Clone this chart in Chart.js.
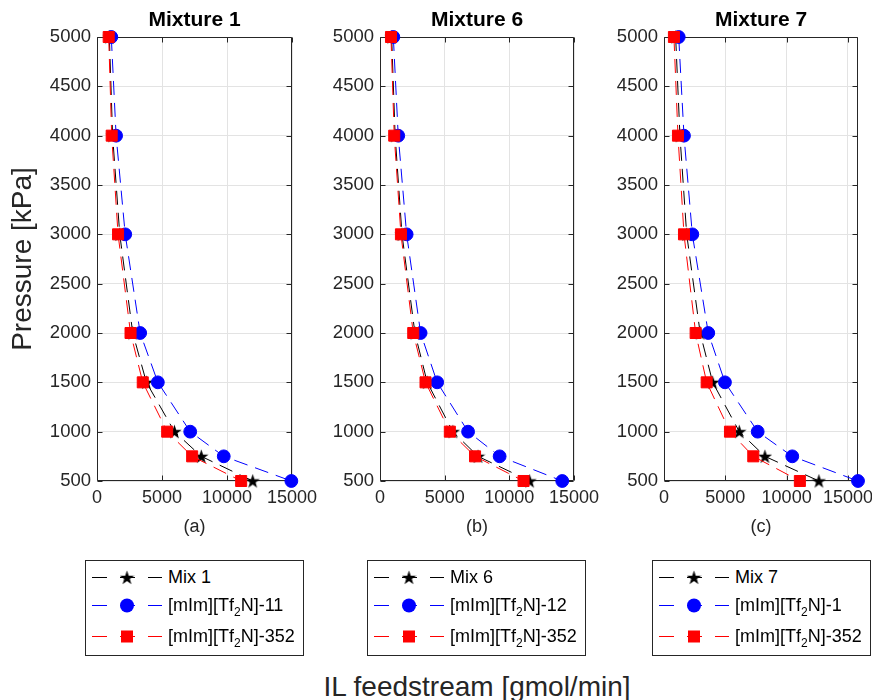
<!DOCTYPE html>
<html>
<head>
<meta charset="utf-8">
<script src="https://cdn.jsdelivr.net/npm/chart.js@4/dist/chart.umd.min.js"></script>
<style>
html,body{margin:0;padding:0;background:#fff;}
#root{position:relative;width:872px;height:700px;overflow:hidden;background:#fff;font-family:"Liberation Sans",Arial,Helvetica,sans-serif;}
canvas.plot{position:absolute;top:0;}
.legend{position:absolute;top:560px;width:217px;height:94px;border:1px solid #262626;background:#fff;}
.row{position:absolute;left:0;width:217px;height:30px;}
.row canvas{position:absolute;left:0;top:0;}
.row span{position:absolute;left:82px;top:0;line-height:30px;font-size:18px;color:#000;white-space:nowrap;}
.row sub{font-size:12px;vertical-align:-5px;line-height:0;}
#xlabel{position:absolute;left:177px;width:600px;top:670px;line-height:34px;font-size:28px;color:#262626;text-align:center;}
</style>
</head>
<body>
<div id="root">
  <canvas id="c1" class="plot"></canvas>
  <canvas id="c2" class="plot"></canvas>
  <canvas id="c3" class="plot"></canvas>
  <div id="xlabel">IL feedstream [gmol/min]</div>
</div>
<script>
// ---------------- DATA ----------------
const pressures = [5000, 4000, 3000, 2000, 1500, 1000, 750, 500];

const mix1      = [950, 1200, 1750, 2750, 3800, 5960, 8020, 11980];
const il11      = [1100, 1470, 2170, 3320, 4680, 7170, 9750, 14950];
const il352_a   = [900, 1130, 1620, 2580, 3520, 5400, 7320, 11090];

const mix6      = [900, 1170, 1700, 2700, 3650, 5630, 7580, 11570];
const il12      = [1030, 1410, 2060, 3140, 4420, 6810, 9250, 14090];
const il352_b   = [850, 1100, 1620, 2570, 3520, 5400, 7350, 11100];

const mix7      = [950, 1300, 1850, 2950, 3970, 6140, 8230, 12630];
const il1       = [1200, 1630, 2310, 3610, 4970, 7640, 10460, 15820];
const il352_c   = [810, 1140, 1630, 2580, 3480, 5380, 7280, 11080];

const panelTitles = ['Mixture 1', 'Mixture 6', 'Mixture 7'];
const panelLabels = ['(a)', '(b)', '(c)'];
const mixNames    = ['Mix 1', 'Mix 6', 'Mix 7'];
const ilNames     = ['[mIm][Tf<sub>2</sub>N]-11', '[mIm][Tf<sub>2</sub>N]-12', '[mIm][Tf<sub>2</sub>N]-1'];
const ilRefName   = '[mIm][Tf<sub>2</sub>N]-352';
const xMaxes      = [15000, 15000, 15820];
const xTickValues = [0, 5000, 10000, 15000];
const yTickValues = [500, 1000, 1500, 2000, 2500, 3000, 3500, 4000, 4500, 5000];
const yTitle      = 'Pressure [kPa]';

// ---------------- STYLE / HELPERS ----------------
Chart.defaults.font.family = '"Liberation Sans", Arial, Helvetica, sans-serif';
Chart.defaults.color = '#262626';

function makeStar(size, color) {
  const c = document.createElement('canvas');
  c.width = size; c.height = size;
  const g = c.getContext('2d');
  const cx = size / 2, cy = size / 2 + 0.6, R = size / 2, r = R * 0.40;
  g.beginPath();
  for (let i = 0; i < 10; i++) {
    const a = -Math.PI / 2 + i * Math.PI / 5;
    const rad = (i % 2) ? r : R;
    g.lineTo(cx + rad * Math.cos(a), cy + rad * Math.sin(a));
  }
  g.closePath();
  g.fillStyle = color;
  g.fill();
  return c;
}
const starImg = makeStar(15, '#000');

const boxPlugin = {
  id: 'boxTicks',
  beforeDatasetsDraw(chart) {
    const { ctx, chartArea, scales } = chart;
    const L = Math.round(chartArea.left) + 0.5, R = Math.round(chartArea.right) - 0.5;
    const T = Math.round(chartArea.top) + 0.5, B = Math.round(chartArea.bottom) - 0.5;
    ctx.save();
    ctx.strokeStyle = '#262626';
    ctx.lineWidth = 1;
    ctx.beginPath();
    ctx.rect(L, T, R - L, B - T);
    scales.x.ticks.forEach(t => {
      const p = Math.round(scales.x.getPixelForValue(t.value)) + 0.5;
      ctx.moveTo(p, B); ctx.lineTo(p, B - 5);
      ctx.moveTo(p, T); ctx.lineTo(p, T + 5);
    });
    scales.y.ticks.forEach(t => {
      const p = Math.round(scales.y.getPixelForValue(t.value)) + 0.5;
      ctx.moveTo(L, p); ctx.lineTo(L + 5, p);
      ctx.moveTo(R, p); ctx.lineTo(R - 5, p);
    });
    ctx.stroke();
    ctx.restore();
  }
};

function pts(xs) { return xs.map((x, i) => ({ x: x, y: pressures[i] })); }

const DASH = [14, 8];
const plainNum = v => String(v);

function makePanel(id, idx, geo, mixVals, ilVals, refVals) {
  const cv = document.getElementById(id);
  cv.width = geo.cw; cv.height = 545;
  cv.style.left = geo.cl + 'px';
  cv.style.width = geo.cw + 'px';
  cv.style.height = '545px';
  const showYTitle = idx === 0;
  const common = { xAxisID: 'x', yAxisID: 'y', showLine: true, borderWidth: 1, borderDash: DASH, clip: false };
  return new Chart(cv, {
    type: 'scatter',
    data: {
      datasets: [
        Object.assign({ label: 'mix', data: pts(mixVals), borderColor: '#000', backgroundColor: '#000',
          pointStyle: starImg, pointRadius: 7, order: 3 }, common),
        Object.assign({ label: 'il', data: pts(ilVals), borderColor: '#0000ff', backgroundColor: '#0000ff',
          pointStyle: 'circle', pointRadius: 6.4, pointBorderWidth: 1, order: 2 }, common),
        Object.assign({ label: 'ref', data: pts(refVals), borderColor: '#ff0000', backgroundColor: '#ff0000',
          pointStyle: 'rect', pointRadius: 7.8, pointBorderWidth: 1, order: 1 }, common)
      ]
    },
    options: {
      responsive: false,
      animation: false,
      devicePixelRatio: 1,
      layout: { padding: { left: 0, right: geo.rp, top: 0, bottom: 0 } },
      plugins: {
        legend: { display: false },
        tooltip: { enabled: false },
        title: { display: false }
      },
      scales: {
        x: {
          type: 'linear', position: 'bottom', min: 0, max: xMaxes[idx],
          afterBuildTicks: s => { s.ticks = xTickValues.map(v => ({ value: v })); },
          afterFit: s => { s.height = 64; },
          grid: { color: '#e3e3e3', drawTicks: false, lineWidth: 1 },
          border: { display: false },
          ticks: { font: { size: 18 }, color: '#262626', padding: 6.5, maxRotation: 0, autoSkip: false, callback: plainNum },
          title: { display: true, text: panelLabels[idx], color: '#262626', font: { size: 18 }, padding: { top: 0, bottom: 7.2 } }
        },
        xTop: {
          type: 'linear', position: 'top', axis: 'x', min: 0, max: xMaxes[idx],
          afterFit: s => { s.height = 37; },
          grid: { display: false, drawTicks: false },
          border: { display: false },
          ticks: { display: false },
          title: { display: true, text: panelTitles[idx], color: '#000', font: { size: 21, weight: 'bold' }, padding: { top: 7.4, bottom: 0 } }
        },
        y: {
          type: 'linear', min: 500, max: 5000,
          afterBuildTicks: s => { s.ticks = yTickValues.map(v => ({ value: v })); },
          afterFit: s => { s.width = geo.yw; },
          grid: { color: '#e3e3e3', drawTicks: false, lineWidth: 1 },
          border: { display: false },
          ticks: { font: { size: 18.5 }, color: '#262626', padding: 6, autoSkip: false, callback: plainNum },
          title: { display: showYTitle, text: yTitle, color: '#262626', font: { size: 28 }, padding: { top: 6, bottom: 0 } }
        }
      }
    },
    plugins: [boxPlugin]
  });
}

makePanel('c1', 0, { cl: 0,   cw: 390, yw: 97, rp: 98 }, mix1, il11, il352_a);
makePanel('c2', 1, { cl: 320, cw: 314, yw: 60, rp: 60 }, mix6, il12, il352_b);
makePanel('c3', 2, { cl: 604, cw: 314, yw: 60, rp: 60 }, mix7, il1, il352_c);

// ---------------- LEGENDS (HTML, drawn below each panel) ----------------
function drawSymbol(cv, color, kind) {
  const g = cv.getContext('2d');
  g.strokeStyle = color;
  g.lineWidth = 1;
  g.beginPath();
  g.moveTo(6, 15.5); g.lineTo(21, 15.5);
  g.moveTo(34, 15.5); g.lineTo(49, 15.5);
  g.moveTo(62, 15.5); g.lineTo(76, 15.5);
  g.stroke();
  g.fillStyle = color;
  if (kind === 'star') {
    g.drawImage(starImg, 41 - 7.5, 15.5 - 7.5);
  } else if (kind === 'circle') {
    g.beginPath(); g.arc(41, 15.5, 7, 0, Math.PI * 2); g.fill();
  } else {
    g.fillRect(41 - 6, 15.5 - 6, 12, 12);
  }
}
const legendLefts = [85, 367, 652];
const rowTops = [1, 29, 60];
for (let p = 0; p < 3; p++) {
  const box = document.createElement('div');
  box.className = 'legend';
  box.style.left = legendLefts[p] + 'px';
  const entries = [
    { text: mixNames[p], color: '#000', kind: 'star' },
    { text: ilNames[p], color: '#0000ff', kind: 'circle' },
    { text: ilRefName, color: '#ff0000', kind: 'rect' }
  ];
  entries.forEach((e, i) => {
    const row = document.createElement('div');
    row.className = 'row';
    row.style.top = rowTops[i] + 'px';
    const cv = document.createElement('canvas');
    cv.width = 80; cv.height = 30;
    row.appendChild(cv);
    const sp = document.createElement('span');
    sp.innerHTML = e.text;
    row.appendChild(sp);
    box.appendChild(row);
    drawSymbol(cv, e.color, e.kind);
  });
  document.getElementById('root').appendChild(box);
}
</script>
</body>
</html>
